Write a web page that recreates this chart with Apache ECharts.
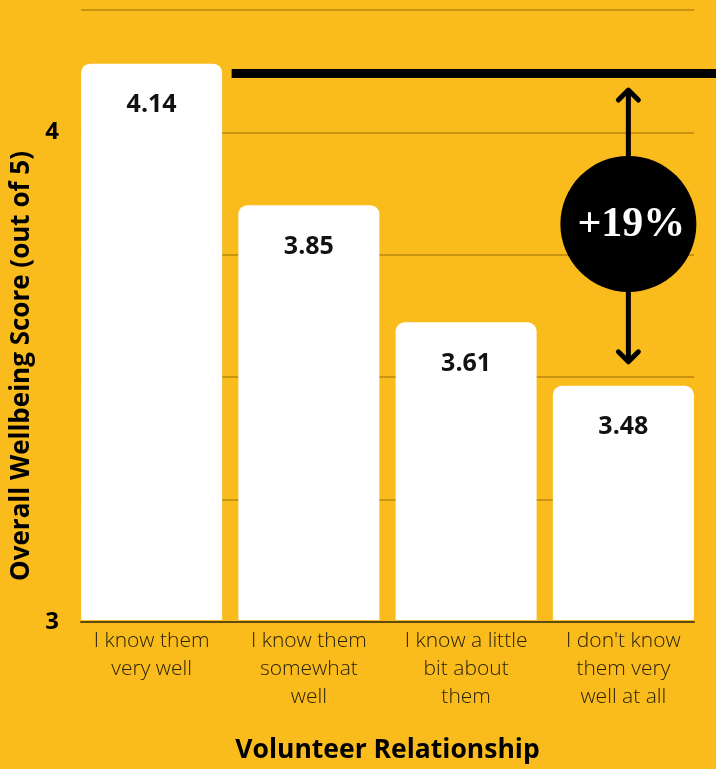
<!DOCTYPE html>
<html>
<head>
<meta charset="utf-8">
<script src="https://cdn.jsdelivr.net/npm/echarts@6/dist/echarts.min.js"></script>
<style>
  html, body { margin: 0; padding: 0; background: #F9BC1C; }
  #chart { width: 716px; height: 769px; }
</style>
</head>
<body>
<div id="chart"></div>
<script>
// data
const categories = [
    'I know them\nvery well',
    'I know them\nsomewhat\nwell',
    'I know a little\nbit about\nthem',
    "I don't know\nthem very\nwell at all"
];
const scores = [4.14, 3.85, 3.61, 3.48];
const yTicks = [3, 4];
const refLevel = 4.12;          // black reference line
const arrowRange = [4.09, 3.525]; // double arrow ends
const gapLabel = '+19%';

const chart = echarts.init(document.getElementById('chart'));

const yRange = { min: 3, max: 4.25, interval: 0.25 };

chart.setOption({
    backgroundColor: '#F9BC1C',
    animation: false,
    grid: [
        { left: 81, right: 22, top: 10, bottom: 147 },  // gridlines + y labels
        { left: 73, right: 14, top: 10, bottom: 147 }   // bars
    ],
    xAxis: [
        {
            type: 'category', gridIndex: 0, data: categories,
            axisLine: { show: true, lineStyle: { color: '#5E4A12', width: 2 } },
            axisTick: { show: false }, axisLabel: { show: false }
        },
        {
            type: 'category', gridIndex: 1, data: categories,
            axisLine: { show: false }, axisTick: { show: false },
            axisLabel: {
                interval: 0, margin: 7, fontFamily: 'Open Sans', fontWeight: 300,
                fontSize: 21, lineHeight: 28, color: '#2A2108'
            },
            name: 'Volunteer Relationship', nameLocation: 'middle', nameGap: 117,
            nameTextStyle: { fontFamily: 'Open Sans', fontWeight: 'bold', fontSize: 26.5, color: '#000' }
        }
    ],
    yAxis: [
        {
            type: 'value', gridIndex: 0, ...yRange,
            axisLine: { show: false }, axisTick: { show: false },
            splitLine: { lineStyle: { color: '#C9940F', width: 2 } },
            axisLabel: {
                margin: 22, fontFamily: 'Open Sans', fontWeight: 'bold', fontSize: 24, color: '#000',
                formatter: v => yTicks.includes(v) ? String(v) : ''
            },
            name: 'Overall Wellbeing Score (out of 5)', nameLocation: 'middle', nameGap: 46,
            nameTextStyle: {
                fontFamily: 'Open Sans', fontWeight: 'bold', fontSize: 26, color: '#000',
                padding: [0, 100, 0, 0]
            }
        },
        {
            type: 'value', gridIndex: 1, ...yRange, show: false
        }
    ],
    series: [{
        type: 'bar',
        xAxisIndex: 1, yAxisIndex: 1,
        data: scores,
        barWidth: 141,
        itemStyle: { color: '#FFFFFF', borderRadius: [9, 9, 0, 0] },
        label: {
            show: true, position: 'insideTop', distance: 29,
            fontFamily: 'Open Sans', fontWeight: 'bold', fontSize: 25, color: '#111',
            formatter: p => p.value.toFixed(2)
        }
    }]
});

// annotation: reference line and the gap arrow, placed through the axes
const yPx = v => chart.convertToPixel({ yAxisIndex: 1 }, v);
const xPx = i => chart.convertToPixel({ xAxisIndex: 1 }, i);

const lineY = yPx(refLevel);
const lineX0 = xPx(0) + 80;
const arrowX = xPx(3) + 5;
const arrowTop = yPx(arrowRange[0]);
const arrowBottom = yPx(arrowRange[1]);
const mid = (arrowTop + arrowBottom) / 2 - 2;
const head = 10;
const black = '#000';

chart.setOption({
    graphic: [
        {
            type: 'line', shape: { x1: lineX0, y1: lineY, x2: 716, y2: lineY },
            style: { stroke: black, lineWidth: 9 }
        },
        {
            type: 'line', shape: { x1: arrowX, y1: arrowTop + 2, x2: arrowX, y2: arrowBottom - 2 },
            style: { stroke: black, lineWidth: 5 }
        },
        {
            type: 'polyline',
            shape: { points: [[arrowX - head, arrowTop + head + 2], [arrowX, arrowTop + 2], [arrowX + head, arrowTop + head + 2]] },
            style: { stroke: black, lineWidth: 5, fill: null, lineCap: 'round', lineJoin: 'round' }
        },
        {
            type: 'polyline',
            shape: { points: [[arrowX - head, arrowBottom - head - 2], [arrowX, arrowBottom - 2], [arrowX + head, arrowBottom - head - 2]] },
            style: { stroke: black, lineWidth: 5, fill: null, lineCap: 'round', lineJoin: 'round' }
        },
        {
            type: 'circle', shape: { cx: arrowX, cy: mid, r: 68 },
            style: { fill: black }
        },
        {
            type: 'text', x: arrowX + 3, y: mid + 1,
            style: {
                text: gapLabel, fill: '#fff', font: 'bold 42px "Liberation Serif", serif',
                align: 'center', verticalAlign: 'middle'
            }
        }
    ]
});
</script>
</body>
</html>
